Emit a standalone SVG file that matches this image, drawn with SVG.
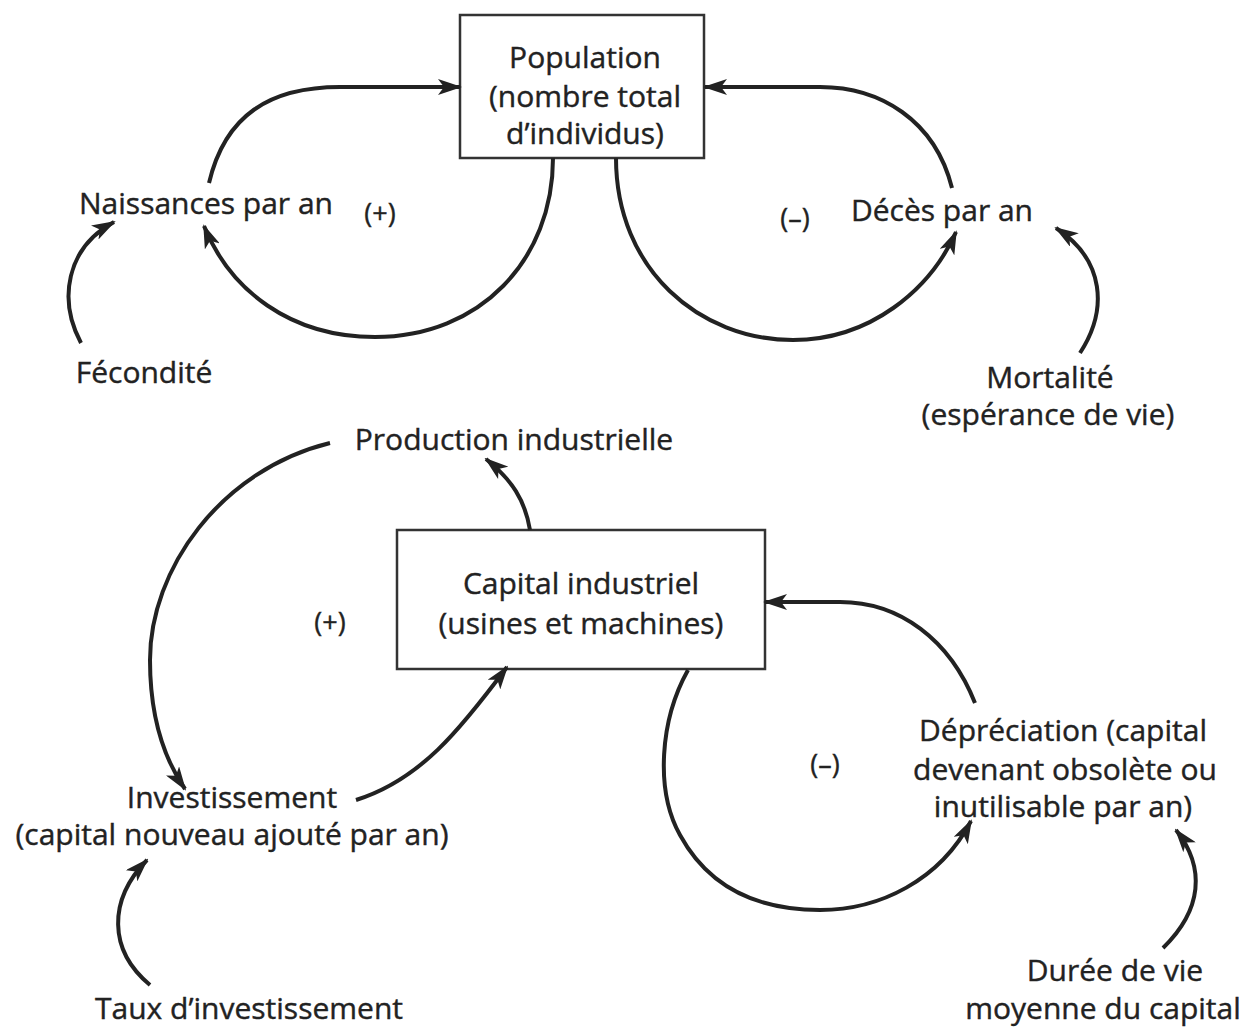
<svg xmlns="http://www.w3.org/2000/svg" width="1243" height="1028" viewBox="0 0 1243 1028">
<defs>
<marker id="ah" viewBox="0 0 24 16" refX="22" refY="8" markerWidth="24" markerHeight="16" markerUnits="userSpaceOnUse" orient="auto">
<path d="M0,0 L24,8 L0,16 L6,8 z" fill="#222"/>
</marker>
<style>
text{font-family:"Open Sans","Noto Sans",sans-serif;font-size:30px;fill:#222;stroke:#222;stroke-width:0.4;text-anchor:middle}
.s{font-size:27px}
.box{fill:none;stroke:#333;stroke-width:2.5}
.c{fill:none;stroke:#222;stroke-width:4;marker-end:url(#ah)}
</style>
</defs>
<rect width="1243" height="1028" fill="#fff"/>
<g id="population">
<rect class="box" x="460" y="15" width="244" height="143"/>
<text x="585" y="68">Population</text>
<text x="585" y="107">(nombre total</text>
<text x="585" y="144">d’individus)</text>
</g>
<g id="naissances"><text x="206" y="214">Naissances par an</text></g>
<g id="deces"><text x="942" y="221">Décès par an</text></g>
<g id="fecondite"><text x="144" y="383">Fécondité</text></g>
<g id="mortalite"><text x="1050" y="388">Mortalité</text><text x="1048" y="425">(espérance de vie)</text></g>
<g id="production"><text x="514" y="450">Production industrielle</text></g>
<g id="capital">
<rect class="box" x="397" y="530" width="368" height="139"/>
<text x="581" y="594">Capital industriel</text>
<text x="581" y="634">(usines et machines)</text>
</g>
<g id="investissement"><text x="232" y="808">Investissement</text><text x="232" y="845">(capital nouveau ajouté par an)</text></g>
<g id="taux"><text x="249" y="1019">Taux d’investissement</text></g>
<g id="depreciation"><text x="1063" y="741">Dépréciation (capital</text><text x="1065" y="780">devenant obsolète ou</text><text x="1063" y="817">inutilisable par an)</text></g>
<g id="duree"><text x="1115" y="981">Durée de vie</text><text x="1103" y="1019">moyenne du capital</text></g>
<g id="signs">
<text class="s" x="380" y="223">(+)</text>
<text class="s" x="795" y="228">(–)</text>
<text class="s" x="330" y="632">(+)</text>
<text class="s" x="825" y="774">(–)</text>
</g>
<g id="connectors">
<path class="c" d="M209,183 C225,115 270,87 340,87 L460,87"/>
<path class="c" d="M553,158 C553,260 480,337 375,337 C290,337 230,290 204,226"/>
<path class="c" d="M81,343 C58,300 66,248 114,222"/>
<path class="c" d="M952,188 C935,120 880,87 820,87 L705,87"/>
<path class="c" d="M616,158 C616,270 700,340 793,340 C870,340 930,290 956,232"/>
<path class="c" d="M1080,353 C1108,310 1105,260 1056,228"/>
<path class="c" d="M530,530 C525,500 512,480 486,459"/>
<path class="c" d="M330,443 C220,470 150,570 150,660 C150,720 165,760 185,789"/>
<path class="c" d="M356,800 C420,780 460,730 507,667"/>
<path class="c" d="M150,985 C108,950 108,900 147,860"/>
<path class="c" d="M975,703 C950,640 900,602 840,602 L765,602"/>
<path class="c" d="M688,670 C660,720 655,790 680,835 C710,890 760,910 820,910 C880,910 940,880 971,821"/>
<path class="c" d="M1163,948 C1202,910 1206,868 1176,830"/>
</g>
</svg>
